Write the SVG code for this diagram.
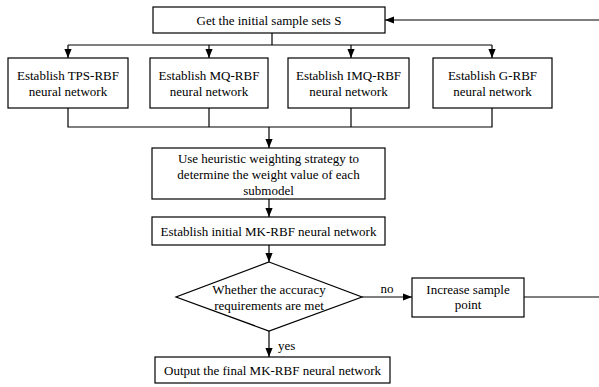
<svg xmlns="http://www.w3.org/2000/svg" width="599" height="387" viewBox="0 0 599 387">
<style>
.box{fill:#fff;stroke:#000;stroke-width:1.2}
.t{font-family:"Liberation Serif","Times New Roman",serif;font-size:13px;fill:#000;text-anchor:middle}
.c{fill:none;stroke:#000;stroke-width:1.2}
</style>
<defs>
<marker id="ah" viewBox="0 0 10 10" refX="10" refY="5" markerWidth="9" markerHeight="9" markerUnits="userSpaceOnUse" orient="auto">
<path d="M0,1 L10,5 L0,9 Z" fill="#000"/>
</marker>
</defs>
<g id="connectors">
<path class="c" d="M272,33 V45"/>
<path class="c" d="M68,45 H492"/>
<path class="c" d="M68,45 V58" marker-end="url(#ah)"/>
<path class="c" d="M209,45 V58" marker-end="url(#ah)"/>
<path class="c" d="M351,45 V58" marker-end="url(#ah)"/>
<path class="c" d="M492,45 V58" marker-end="url(#ah)"/>
<path class="c" d="M68,108 V127 H492 V108"/>
<path class="c" d="M209,108 V127"/>
<path class="c" d="M351,108 V127"/>
<path class="c" d="M269,127 V148" marker-end="url(#ah)"/>
<path class="c" d="M269,199 V217" marker-end="url(#ah)"/>
<path class="c" d="M269,245 V262" marker-end="url(#ah)"/>
<path class="c" d="M362,297 H412" marker-end="url(#ah)"/>
<path class="c" d="M269,331 V357" marker-end="url(#ah)"/>
<path class="c" d="M524,297 H600 V20 H385" marker-end="url(#ah)"/>
<text class="t" x="387" y="293">no</text>
<text class="t" x="278" y="350" style="text-anchor:start">yes</text>
</g>
<g id="n_init">
<rect class="box" x="153" y="7" width="232" height="26"/>
<text class="t" x="269" y="24.5">Get the initial sample sets S</text>
</g>
<g id="n_tps">
<rect class="box" x="8" y="58" width="120" height="50"/>
<text class="t" x="68" y="79.5">Establish TPS-RBF</text>
<text class="t" x="68" y="95.5">neural network</text>
</g>
<g id="n_mq">
<rect class="box" x="150" y="58" width="118" height="50"/>
<text class="t" x="209" y="79.5">Establish MQ-RBF</text>
<text class="t" x="209" y="95.5">neural network</text>
</g>
<g id="n_imq">
<rect class="box" x="288" y="58" width="121" height="50"/>
<text class="t" x="348.5" y="79.5">Establish IMQ-RBF</text>
<text class="t" x="348.5" y="95.5">neural network</text>
</g>
<g id="n_g">
<rect class="box" x="433" y="58" width="119" height="50"/>
<text class="t" x="492.5" y="79.5">Establish G-RBF</text>
<text class="t" x="492.5" y="95.5">neural network</text>
</g>
<g id="n_weight">
<rect class="box" x="152" y="148" width="233" height="51"/>
<text class="t" x="268.5" y="162.5">Use heuristic weighting strategy to</text>
<text class="t" x="268.5" y="178.5">determine the weight value of each</text>
<text class="t" x="268.5" y="194.5">submodel</text>
</g>
<g id="n_mk">
<rect class="box" x="152" y="217" width="233" height="28"/>
<text class="t" x="268.5" y="235.5">Establish initial MK-RBF neural network</text>
</g>
<g id="n_check">
<polygon class="box" points="269,262 362,297 269,331 176,297"/>
<text class="t" x="269" y="293.5">Whether the accuracy</text>
<text class="t" x="269" y="309.5">requirements are met</text>
</g>
<g id="n_increase">
<rect class="box" x="412" y="278" width="112" height="39"/>
<text class="t" x="468" y="293.5">Increase sample</text>
<text class="t" x="468" y="309">point</text>
</g>
<g id="n_output">
<rect class="box" x="155" y="357" width="235" height="26"/>
<text class="t" x="272.5" y="374.5">Output the final MK-RBF neural network</text>
</g>
</svg>
